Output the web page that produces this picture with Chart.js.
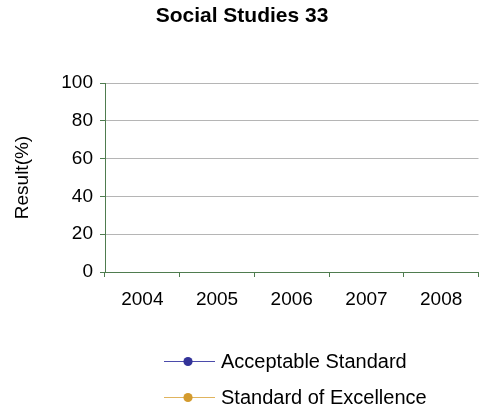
<!DOCTYPE html>
<html>
<head>
<meta charset="utf-8">
<script src="https://cdn.jsdelivr.net/npm/chart.js@4"></script>
<style>
  html, body { margin: 0; padding: 0; overflow: hidden; background: #fff; }
  canvas { display: block; }
</style>
</head>
<body>
<canvas id="chart" width="484" height="408"></canvas>
<script>
// Results by school year (no values reported yet)
const years = ['2004', '2005', '2006', '2007', '2008'];
const acceptableStandard = [null, null, null, null, null];
const standardOfExcellence = [null, null, null, null, null];
const yTicks = [0, 20, 40, 60, 80, 100];
const seriesNames = ['Acceptable Standard', 'Standard of Excellence'];
const seriesColors = ['#333399', '#d49b2e'];
const lineColors = ['#4b4bab', '#e0b45e'];

const FONT = "'Liberation Sans', Arial, sans-serif";
const AXIS_GREEN = '#4f7c4f';

// Legend stacked below the axis: short line with a marker, then the series name
const stackedLegend = {
  id: 'stackedLegend',
  afterDraw(chart) {
    const ctx = chart.ctx;
    ctx.save();
    chart.data.datasets.forEach((ds, i) => {
      const y = 361 + i * 36;
      ctx.strokeStyle = lineColors[i];
      ctx.lineWidth = 1;
      ctx.beginPath();
      ctx.moveTo(164, y + 0.5);
      ctx.lineTo(215, y + 0.5);
      ctx.stroke();
      ctx.fillStyle = ds.backgroundColor;
      ctx.beginPath();
      ctx.arc(188, y + 0.5, 4.6, 0, Math.PI * 2);
      ctx.fill();
      ctx.fillStyle = '#000';
      ctx.font = '20px ' + FONT;
      ctx.textAlign = 'left';
      ctx.textBaseline = 'alphabetic';
      ctx.fillText(ds.label, 221, y + 6.5);
    });
    ctx.restore();
  }
};

new Chart(document.getElementById('chart'), {
  type: 'line',
  data: {
    labels: years,
    datasets: [
      {
        label: seriesNames[0],
        data: acceptableStandard,
        borderColor: seriesColors[0],
        backgroundColor: seriesColors[0],
        borderWidth: 1,
        pointRadius: 4.5
      },
      {
        label: seriesNames[1],
        data: standardOfExcellence,
        borderColor: seriesColors[1],
        backgroundColor: seriesColors[1],
        borderWidth: 1,
        pointRadius: 4.5
      }
    ]
  },
  options: {
    responsive: false,
    animation: false,
    layout: { padding: 0 },
    plugins: {
      legend: { display: false },
      tooltip: { enabled: false },
      title: {
        display: true,
        text: 'Social Studies 33',
        color: '#000',
        font: { family: FONT, size: 21, weight: 'bold' },
        padding: { top: 4, bottom: 53.8 }
      }
    },
    scales: {
      x: {
        offset: true,
        grid: {
          offset: true,
          drawOnChartArea: false,
          drawTicks: true,
          tickLength: 5,
          tickColor: AXIS_GREEN
        },
        border: { color: AXIS_GREEN, width: 1 },
        ticks: {
          color: '#000',
          font: { family: FONT, size: 19 },
          padding: 11,
          maxRotation: 0
        },
        afterFit: (scale) => { scale.height = 136; }
      },
      y: {
        min: 0,
        max: 100,
        afterBuildTicks: (scale) => { scale.ticks = yTicks.map(v => ({ value: v })); },
        grid: {
          color: '#b5b5b5',
          tickColor: AXIS_GREEN,
          tickLength: 5
        },
        border: { color: AXIS_GREEN, width: 1 },
        ticks: {
          color: '#000',
          font: { family: FONT, size: 19 },
          padding: 7
        },
        title: {
          display: true,
          text: 'Result(%)',
          color: '#000',
          font: { family: FONT, size: 19 },
          padding: { top: 11, bottom: 0 }
        },
        afterFit: (scale) => { scale.width = 105; }
      }
    }
  },
  plugins: [stackedLegend]
});
</script>
</body>
</html>
